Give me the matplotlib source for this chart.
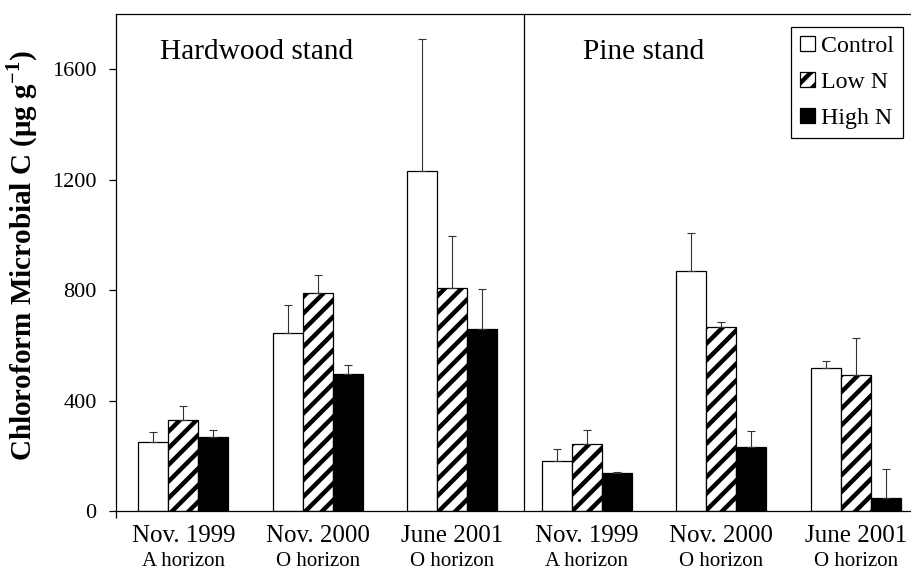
import matplotlib
matplotlib.use("Agg")
import matplotlib.pyplot as plt
import matplotlib.transforms as mtransforms
import numpy as np

# ---- data ----
dates = ["Nov. 1999", "Nov. 2000", "June 2001", "Nov. 1999", "Nov. 2000", "June 2001"]
horizons = ["A horizon", "O horizon", "O horizon", "A horizon", "O horizon", "O horizon"]
treatments = ["Control", "Low N", "High N"]
control = [249, 646, 1231, 182, 871, 517]
control_err = [38, 100, 480, 44, 135, 27]
low_n = [330, 789, 809, 242, 666, 492]
low_n_err = [50, 65, 187, 53, 20, 135]
high_n = [267, 495, 658, 137, 232, 46]
high_n_err = [28, 34, 146, 3, 58, 107]
stand_titles = ["Hardwood stand", "Pine stand"]
yticks = [0, 400, 800, 1200, 1600]

plt.rcParams['font.family'] = ['Liberation Serif', 'DejaVu Serif']
plt.rcParams['mathtext.fontset'] = 'custom'
plt.rcParams['mathtext.rm'] = 'Liberation Serif'
plt.rcParams['mathtext.bf'] = 'Liberation Serif:bold'
plt.rcParams['hatch.linewidth'] = 3.2

fig = plt.figure(figsize=(9.11, 5.70), dpi=100)
ax = fig.add_axes([116/911, 59/570, 795/911, 497/570])

x = np.arange(len(dates))
w = 0.223
series = [(control, control_err, 'white', ''),
          (low_n, low_n_err, 'white', '//'),
          (high_n, high_n_err, 'black', '')]
for k, (vals, errs, fc, hatch) in enumerate(series):
    pos = x + (k - 1) * w
    ax.bar(pos, vals, width=w, color=fc, edgecolor='black', linewidth=0.9,
           hatch=hatch, label=treatments[k], zorder=2)
    ax.errorbar(pos, vals, yerr=[np.zeros(len(errs)), errs], fmt='none',
                ecolor='#333333', elinewidth=0.8, capsize=3, capthick=0.8, zorder=3)

ax.set_xlim(-0.5, 5.41)
ax.set_ylim(0, 1800)
ax.axvline(2.533, color='black', linewidth=0.9, zorder=1)

ax.spines['right'].set_visible(False)
for s in ['left', 'top', 'bottom']:
    ax.spines[s].set_linewidth(0.9)

ax.set_yticks(yticks)
ax.set_yticklabels([str(t) for t in yticks], fontsize=16)
ax.tick_params(axis='y', direction='out', length=5, width=0.9, pad=9)
ax.set_xticks([-0.5])
ax.set_xticklabels([''])
ax.tick_params(axis='x', direction='out', length=5, width=0.9)

# x labels (two lines)
trans = mtransforms.blended_transform_factory(ax.transData, fig.transFigure)
for i in range(len(dates)):
    ax.text(x[i], (570 - 541.5) / 570, dates[i], transform=trans, ha='center',
            va='baseline', fontsize=18)
    ax.text(x[i], (570 - 566.5) / 570, horizons[i], transform=trans, ha='center',
            va='baseline', fontsize=15)

# stand titles
ax.text(-0.171, 1637, stand_titles[0], fontsize=21.2, ha='left', va='baseline')
ax.text(2.972, 1637, stand_titles[1], fontsize=21.2, ha='left', va='baseline')

fig.text(22/911, (570 - 256) / 570,
         r'Chloroform Microbial C (μg g$^{\mathbf{-1}}$)',
         rotation=90, ha='center', va='center', fontsize=21, fontweight='bold')

leg = ax.legend(loc='upper right', bbox_to_anchor=(0.99, 0.974), borderaxespad=0,
                fontsize=17.2, frameon=True, fancybox=False, handlelength=0.62,
                handleheight=0.62, handletextpad=0.25, labelspacing=0.62,
                borderpad=0.38, edgecolor='black', framealpha=1)
leg.get_frame().set_linewidth(0.9)

fig.savefig('out.png', dpi=100)
